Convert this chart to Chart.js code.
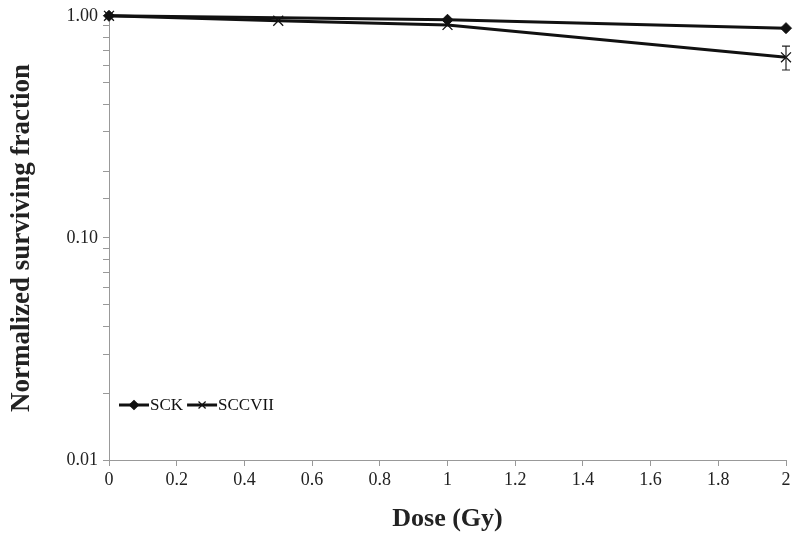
<!DOCTYPE html>
<html><head><meta charset="utf-8">
<script src="https://cdn.jsdelivr.net/npm/chart.js@4/dist/chart.umd.min.js"></script>
<style>html,body{margin:0;padding:0;background:#fff}#wrap{width:800px;height:539px}</style>
</head><body><div id="wrap"><canvas id="c" width="800" height="539"></canvas></div>
<script>
const sckDose = [0, 1, 2];
const sckSF = [1.0, 0.96, 0.88];
const sccDose = [0, 0.5, 1, 2];
const sccSF = [1.0, 0.95, 0.91, 0.65];
const sccErr = [0, 0, 0, 0.08];
const seriesNames = ['SCK', 'SCCVII'];
const yTickLabels = {1: '1.00', 0.1: '0.10', 0.01: '0.01'};

const serif = "'Liberation Serif', 'Times New Roman', serif";

const errorBars = {
  id: 'errorBars',
  afterDatasetsDraw(chart) {
    const ctx = chart.ctx, xs = chart.scales.x, ys = chart.scales.y;
    ctx.save();
    ctx.strokeStyle = '#222'; ctx.lineWidth = 1.2;
    sccDose.forEach((d, i) => {
      const e = sccErr[i]; if (!e) return;
      const px = xs.getPixelForValue(d);
      const top = ys.getPixelForValue(sccSF[i] + e), bot = ys.getPixelForValue(sccSF[i] - e);
      ctx.beginPath();
      ctx.moveTo(px, top); ctx.lineTo(px, bot);
      ctx.moveTo(px - 4, top); ctx.lineTo(px + 4, top);
      ctx.moveTo(px - 4, bot); ctx.lineTo(px + 4, bot);
      ctx.stroke();
    });
    ctx.restore();
  }
};

const customLegend = {
  id: 'customLegend',
  afterDraw(chart) {
    const ctx = chart.ctx;
    const y = 405;
    let x = 119;
    ctx.save();
    ctx.font = '17px ' + serif;
    ctx.textBaseline = 'middle';
    const radii = [4.5, 5];
    chart.data.datasets.forEach((ds, i) => {
      ctx.strokeStyle = '#111'; ctx.fillStyle = '#111'; ctx.lineWidth = 3;
      ctx.beginPath(); ctx.moveTo(x, y); ctx.lineTo(x + 30, y); ctx.stroke();
      ctx.lineWidth = 1.2;
      Chart.helpers.drawPoint(ctx, {pointStyle: ds.pointStyle, radius: radii[i], rotation: 0, borderWidth: 1.2}, x + 15, y);
      ctx.fillStyle = '#111';
      ctx.fillText(ds.label, x + 31, y + 1);
      x += 31 + ctx.measureText(ds.label).width + 4;
    });
    ctx.restore();
  }
};

new Chart(document.getElementById('c'), {
  type: 'line',
  data: {
    datasets: [
      {label: seriesNames[0], data: sckDose.map((d, i) => ({x: d, y: sckSF[i]})),
       borderColor: '#111', backgroundColor: '#111', borderWidth: 3, clip: false,
       pointStyle: 'rectRot', pointRadius: 5.5, pointBorderWidth: 1, pointBackgroundColor: '#111', pointBorderColor: '#111', tension: 0},
      {label: seriesNames[1], data: sccDose.map((d, i) => ({x: d, y: sccSF[i]})),
       borderColor: '#111', backgroundColor: '#111', borderWidth: 3, clip: false,
       pointStyle: 'crossRot', pointRadius: 7, pointBorderWidth: 1.3, pointBorderColor: '#111', tension: 0}
    ]
  },
  options: {
    responsive: false, animation: false, devicePixelRatio: 1,
    layout: {padding: {top: 14, right: 14, left: 2, bottom: 0}},
    plugins: {legend: {display: false}, tooltip: {enabled: false}},
    scales: {
      x: {
        type: 'linear', min: 0, max: 2,
        afterFit(s) { s.height = 79; },
        ticks: {stepSize: 0.2, color: '#222', font: {family: serif, size: 18}, padding: 3,
          callback: v => String(Math.round(v * 10) / 10)},
        grid: {display: true, drawOnChartArea: false, drawTicks: true, tickLength: 6, color: '#999'},
        border: {display: true, color: '#999', width: 1},
        title: {display: true, text: 'Dose (Gy)', color: '#222', font: {family: serif, size: 26, weight: 'bold'}, padding: {top: 8}}
      },
      y: {
        type: 'logarithmic', min: 0.01, max: 1,
        afterFit(s) { s.width = 107; },
        ticks: {color: '#222', font: {family: serif, size: 18}, autoSkip: false, padding: 5,
          callback: v => yTickLabels[v] !== undefined ? yTickLabels[v] : ''},
        grid: {display: true, drawOnChartArea: false, drawTicks: true, tickLength: 6, color: '#999'},
        border: {display: true, color: '#999', width: 1},
        title: {display: true, text: 'Normalized surviving fraction', color: '#222', font: {family: serif, size: 27, weight: 'bold'}, padding: {bottom: 8}}
      }
    }
  },
  plugins: [errorBars, customLegend]
});
</script></body></html>
